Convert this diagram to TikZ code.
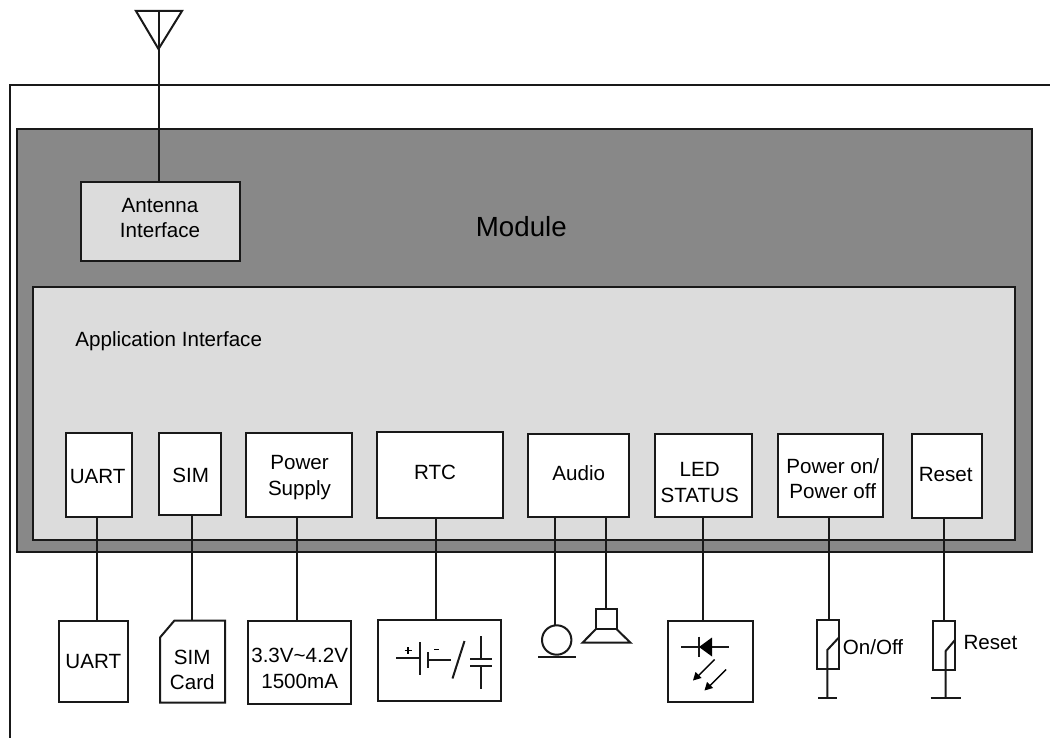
\documentclass[tikz,border=0pt]{standalone}
\usepackage{fontspec}
\setmainfont{Liberation Sans}
\usetikzlibrary{calc}
\definecolor{modgray}{HTML}{888888}
\definecolor{appgray}{HTML}{DCDCDC}
\tikzset{
  ln/.style={line width=2pt,line join=miter,draw=black!90},
  lbl/.style={font=\fontsize{20.6}{25.3}\selectfont,align=center,inner sep=0pt,text=black}
}
% fill, name, x1, y1, x2, y2, text centre x, text centre y, text
\newcommand{\Bx}[9][white]{%
  \pgfmathsetmacro{\bxw}{#5-#3}\pgfmathsetmacro{\bxh}{#6-#4}%
  \node[ln,rectangle,fill=#1,minimum width=\bxw pt,minimum height=\bxh pt,anchor=north west,outer sep=0pt,inner sep=0pt] (#2) at (#3,#4) {};
  \node[lbl] (#2text) at (#7,#8) {#9};}
\begin{document}
\begin{tikzpicture}[x=1pt,y=-1pt]
\useasboundingbox (0,0) rectangle (1050,738);
% outer frame
\coordinate (fa) at (9.5,738);
\coordinate (fb) at (9.5,85.3);
\coordinate (fc) at (1050,85.3);
\draw[ln] (fa) -- (fb) -- (fc);
% module
\node[ln,rectangle,fill=modgray,minimum width=1015pt,minimum height=423pt,anchor=north west,outer sep=0pt,inner sep=0pt] (module) at (17,129.3) {};
\node[lbl,font=\fontsize{27.7}{32}\selectfont] (modlabel) at (521.3,226.7) {Module};
\Bx[appgray]{anti}{80.7}{182.3}{240}{260.7}{160}{218.2}{Antenna\\Interface}
\node[ln,rectangle,fill=appgray,minimum width=982pt,minimum height=252.3pt,anchor=north west,outer sep=0pt,inner sep=0pt] (app) at (33,287.2) {};
\node[lbl] (applabel) at (168.7,341.5) {Application Interface};
% top row
\Bx{tuart}{66}{433}{132}{517}{97.7}{476.7}{UART}
\Bx{tsim}{159}{433}{221.3}{515}{190.7}{475.7}{SIM}
\Bx{tpow}{246}{433}{351.7}{517}{299.5}{477.4}{Power\\Supply}
\Bx{trtc}{376.7}{432}{502.7}{517.7}{435}{472.7}{RTC}
\Bx{taud}{527.7}{433.5}{629}{517}{578.7}{473.3}{Audio}
\Bx{tled}{654.7}{433.5}{752}{517}{699.7}{482.5}{LED\\STATUS}
\Bx{tpwr}{778}{433.5}{883}{517}{832.7}{478.3}{Power on/\\Power off}
\Bx{trst}{912}{433.5}{982.2}{518.2}{945.7}{475}{Reset}
% bottom row
\Bx{buart}{59.3}{620.7}{127.7}{702.3}{93.3}{661.7}{UART}
\coordinate (sa) at (160,637.5);\coordinate (sb) at (174.3,620.7);\coordinate (sc) at (225,620.7);
\coordinate (sd) at (225,702.7);\coordinate (se) at (160,702.7);
\draw[ln] (sa) -- (sb) -- (sc) -- (sd) -- (se) -- cycle;
\node[lbl] (simtext) at (192.3,670.2) {SIM\\Card};
\Bx{bpow}{247.7}{620.7}{350.7}{703.7}{299.7}{668.5}{3.3V\textasciitilde4.2V\\1500mA}
\Bx{brtc}{378.3}{620}{500.7}{701.3}{439}{660}{}
\Bx{bled}{667.7}{620.7}{752.7}{701.7}{710}{660}{}
% connectors
\coordinate (x1) at (96.7,0);\coordinate (x2) at (191.5,620.7);\coordinate (x3) at (296.7,0);
\coordinate (x4) at (436,0);\coordinate (x5) at (555,0);\coordinate (x6) at (606,0);
\coordinate (x7) at (702.7,0);\coordinate (x8) at (828.7,0);\coordinate (x9) at (944,0);
\draw[ln] (tuart.south -| x1) -- (buart.north -| x1);
\draw[ln] (tsim.south -| x2) -- (x2);
\draw[ln] (tpow.south -| x3) -- (bpow.north -| x3);
\draw[ln] (trtc.south -| x4) -- (brtc.north -| x4);
\draw[ln] (tled.south -| x7) -- (bled.north -| x7);
% antenna
\coordinate (ant1) at (136,11);\coordinate (ant2) at (182,11);\coordinate (ant3) at (158.5,49);\coordinate (ant4) at (158.5,11);
\draw[ln] (ant1) -- (ant2) -- (ant3) -- cycle;
\draw[ln] (ant4) -- (anti.north -| ant4);
% RTC symbol
\draw[ln] (396,658) -- (419,658);
\draw[ln] (419.5,642) -- (419.5,674.5);
\draw[ln] (427.5,652) -- (427.5,668);
\draw[ln] (427.5,660) -- (450.5,660);
\draw[line width=1.2pt] (404.5,650.5) -- (411.5,650.5) (408,647) -- (408,654);
\draw[line width=1.2pt] (434,649.5) -- (438.5,649.5);
\draw[ln] (452.5,678.5) -- (464.5,641);
\draw[ln] (481,636) -- (481,658.5);
\draw[ln] (470,658.5) -- (492,658.5);
\draw[ln] (470,666) -- (492,666);
\draw[ln] (481,666) -- (481,689);
% microphone
\node[ln,circle,minimum size=29.4pt,inner sep=0pt,outer sep=0pt] (mic) at (556.7,640) {};
\coordinate (micl) at (538,656.7);\coordinate (micr) at (576,656.7);
\draw[ln] (micl) -- (micr);
\draw[ln] (taud.south -| x5) -- (mic.north -| x5);
% speaker
\coordinate (spa) at (595.7,609.2);\coordinate (spb) at (616.7,609.2);\coordinate (spc) at (616.7,629.3);\coordinate (spd) at (595.7,629.3);
\coordinate (spe) at (582.5,642.7);\coordinate (spf) at (630.5,642.7);
\draw[ln] (spa) -- (spb) -- (spc) -- (spd) -- cycle;
\draw[ln] (spd) -- (spe) -- (spf) -- (spc);
\draw[ln] (taud.south -| x6) -- (spa -| x6);
% LED
\draw[ln] (681,647) -- (729,647);
\draw[ln] (699,636.5) -- (699,657);
\fill (699,647) -- (712,637.5) -- (712,656.5) -- cycle;
\draw[line width=1.4pt] (714.5,659.5) -- (698,676);
\fill (693,680.5) -- (695.5,672) -- (701.5,678) -- cycle;
\draw[line width=1.4pt] (726,669.5) -- (709.5,686);
\fill (704.5,690.5) -- (707,682) -- (713,688) -- cycle;
% on/off
\node[ln,rectangle,minimum width=22.5pt,minimum height=49pt,inner sep=0pt,outer sep=0pt,anchor=north west] (onbox) at (816.7,620) {};
\draw[ln] (tpwr.south -| x8) -- (onbox.north -| x8);
\coordinate (ong) at (827.3,698);
\draw[ln] (838.7,637.7) -- (827.3,650) -- (ong);
\coordinate (ong1) at (818.3,698);\coordinate (ong2) at (837.3,698);
\draw[ln] (ong1) -- (ong2);
\node[lbl,anchor=west] (onlabel) at (842.7,647) {On/Off};
% reset
\node[ln,rectangle,minimum width=22pt,minimum height=49pt,inner sep=0pt,outer sep=0pt,anchor=north west] (rstbox) at (933,621) {};
\draw[ln] (trst.south -| x9) -- (rstbox.north -| x9);
\coordinate (rsg) at (945.7,698);
\draw[ln] (955,640) -- (945.7,651) -- (rsg);
\coordinate (rsg1) at (930.7,698);\coordinate (rsg2) at (961,698);
\draw[ln] (rsg1) -- (rsg2);
\node[lbl,anchor=west] (rstlabel) at (963.3,643) {Reset};
\end{tikzpicture}
\end{document}
